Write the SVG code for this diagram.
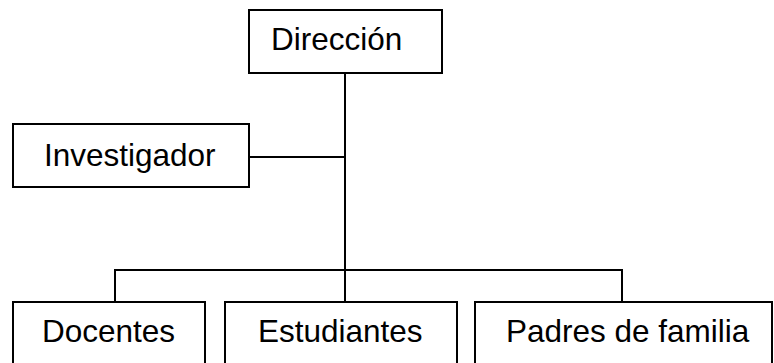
<svg xmlns="http://www.w3.org/2000/svg" width="774" height="363" viewBox="0 0 774 363">
<style>
.box{fill:#fff;stroke:#000;stroke-width:2}
.lbl{font-family:"Liberation Sans",Arial,sans-serif;font-size:31.5px;fill:#000}
.conn{fill:none;stroke:#000;stroke-width:2}
</style>
<rect width="774" height="363" fill="#fff"/>
<g id="connectors">
<path class="conn" d="M345,73 V302"/>
<path class="conn" d="M249,157 H345"/>
<path class="conn" d="M115,302 V270 H622 V302"/>
</g>
<g id="direccion"><rect class="box" x="249" y="10" width="193" height="63"/><text class="lbl" x="271" y="50">Dirección</text></g>
<g id="investigador"><rect class="box" x="13" y="124" width="236" height="63"/><text class="lbl" x="44" y="166">Investigador</text></g>
<g id="docentes"><rect class="box" x="13" y="302" width="192" height="70"/><text class="lbl" x="42" y="342">Docentes</text></g>
<g id="estudiantes"><rect class="box" x="225" y="302" width="232" height="70"/><text class="lbl" x="258" y="342">Estudiantes</text></g>
<g id="padres"><rect class="box" x="475" y="302" width="297" height="70"/><text class="lbl" x="506" y="342">Padres de familia</text></g>
</svg>
